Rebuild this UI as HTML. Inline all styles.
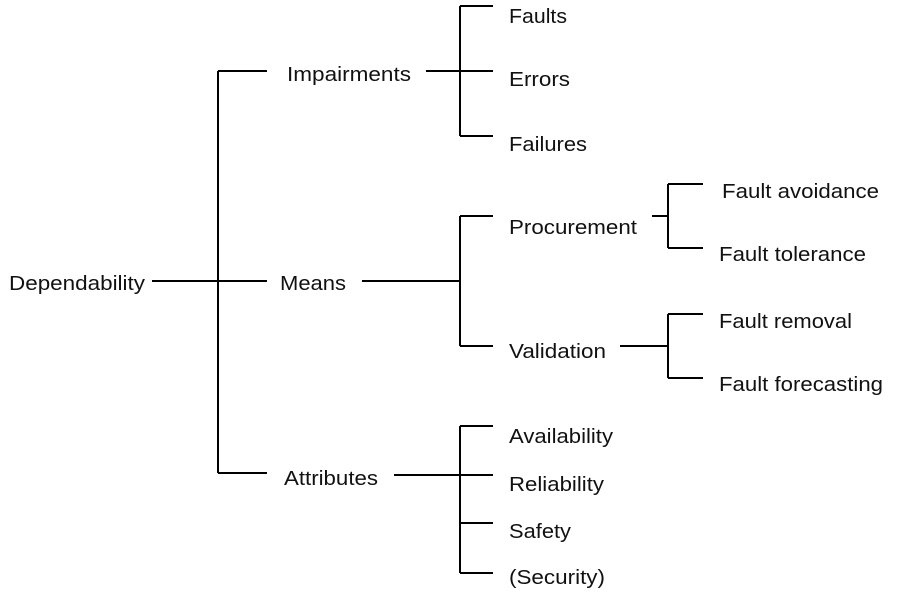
<!DOCTYPE html>
<html><head><style>html,body{margin:0;padding:0;background:#fff}svg{display:block}</style></head>
<body>
<svg width="910" height="598" viewBox="0 0 910 598" xmlns="http://www.w3.org/2000/svg">
<g stroke="#000" stroke-width="2" fill="none">
<path d="M152 281H218M218 71V473M218 71H267M218 281H267M218 473H267"/>
<path d="M426 71H460M460 6V136M460 6H493M460 71H493M460 136H493"/>
<path d="M362 281H460M460 216V346M460 216H493M460 346H493"/>
<path d="M652 216H668M668 184V248M668 184H703M668 248H703"/>
<path d="M620 346H668M668 314V378M668 314H703M668 378H703"/>
<path d="M394 475H460M460 426V573M460 426H493M460 475H493M460 523H493M460 573H493"/>
</g>
<g font-family="Liberation Sans, Arial, sans-serif" font-size="20" fill="#111" dominant-baseline="central">
<text x="9" y="284" textLength="136" lengthAdjust="spacingAndGlyphs">Dependability</text>
<text x="287" y="75" textLength="124" lengthAdjust="spacingAndGlyphs">Impairments</text>
<text x="280" y="284" textLength="66" lengthAdjust="spacingAndGlyphs">Means</text>
<text x="284" y="479" textLength="94" lengthAdjust="spacingAndGlyphs">Attributes</text>
<text x="509" y="17" textLength="58" lengthAdjust="spacingAndGlyphs">Faults</text>
<text x="509" y="80" textLength="61" lengthAdjust="spacingAndGlyphs">Errors</text>
<text x="509" y="145" textLength="78" lengthAdjust="spacingAndGlyphs">Failures</text>
<text x="509" y="228" textLength="128" lengthAdjust="spacingAndGlyphs">Procurement</text>
<text x="509" y="352" textLength="97" lengthAdjust="spacingAndGlyphs">Validation</text>
<text x="722" y="192" textLength="157" lengthAdjust="spacingAndGlyphs">Fault avoidance</text>
<text x="719" y="255" textLength="147" lengthAdjust="spacingAndGlyphs">Fault tolerance</text>
<text x="719" y="322" textLength="133" lengthAdjust="spacingAndGlyphs">Fault removal</text>
<text x="719" y="385" textLength="164" lengthAdjust="spacingAndGlyphs">Fault forecasting</text>
<text x="509" y="437" textLength="104" lengthAdjust="spacingAndGlyphs">Availability</text>
<text x="509" y="485" textLength="95" lengthAdjust="spacingAndGlyphs">Reliability</text>
<text x="509" y="532" textLength="62" lengthAdjust="spacingAndGlyphs">Safety</text>
<text x="509" y="578" textLength="96" lengthAdjust="spacingAndGlyphs">(Security)</text>
</g>
</svg>
</body></html>
